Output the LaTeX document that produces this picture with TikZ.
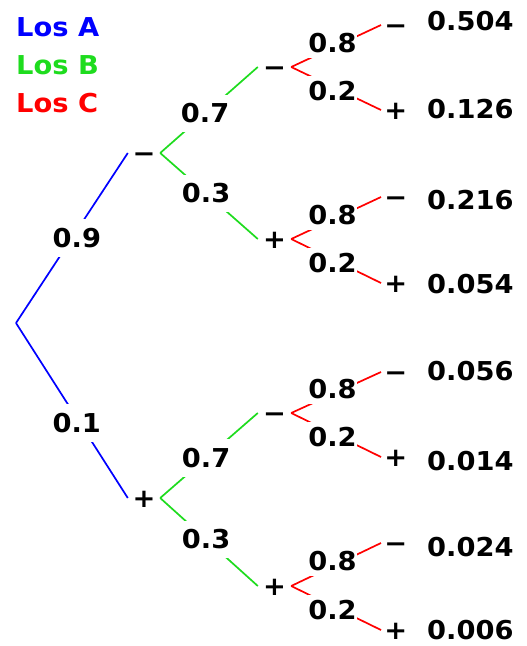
\documentclass[tikz,border=0pt]{standalone}
\usepackage{fontspec}
\setmainfont{DejaVu Sans}[BoldFeatures={FakeStretch=1.05}]
\definecolor{cA}{RGB}{0,0,255}
\definecolor{cB}{RGB}{30,220,30}
\definecolor{cC}{RGB}{255,0,0}
\begin{document}
\begin{tikzpicture}[x=1pt,y=-1pt,
  every node/.style={font=\fontsize{26}{30}\selectfont\bfseries},
  sgn/.style={inner sep=0pt, text height=18pt, text depth=0pt, minimum height=0pt},
  sgnA/.style={sgn, minimum width=32pt},
  sgnB/.style={sgn, minimum width=33pt},
  leafsgn/.style={sgn, minimum width=29pt, anchor=west},
  val/.style={inner sep=0pt, anchor=west},
  lgd/.style={inner sep=0pt, anchor=base west},
  lbl/.style={fill=white, inner xsep=1pt, inner ysep=9pt},
  lblC/.style={fill=white, inner xsep=0pt, inner ysep=5pt},
  edgeA/.style={draw=cA, line width=1.7pt},
  edgeB/.style={draw=cB, line width=1.7pt},
  edgeC/.style={draw=cC, line width=1.7pt}]
\useasboundingbox[fill=white] (0,0) rectangle (527,646);

% legend
\node[lgd, text=cA] (legA) at (16,36) {Los A};
\node[lgd, text=cB] (legB) at (16,74) {Los B};
\node[lgd, text=cC] (legC) at (16,112) {Los C};

% root and level 1
\coordinate (root) at (16,323);
\node[sgnA] (n1) at (144,153) {−};
\node[sgnA] (n2) at (144,498) {+};
\draw[edgeA] (root) -- node[lbl,pos=0.5,xshift=5pt] (p09) {0.9} (n1.west);
\draw[edgeA] (root) -- node[lbl,pos=0.57,xshift=-3pt] (p01) {0.1} (n2.west);

% level 2
\node[sgnB] (m1) at (274.5,67) {−};
\node[sgnB] (m2) at (274.5,239) {+};
\node[sgnB] (m3) at (274.5,413) {−};
\node[sgnB] (m4) at (274.5,586) {+};
\draw[edgeB] (n1.east) -- node[lbl,pos=0.46] (p1a) {0.7} (m1.west);
\draw[edgeB] (n1.east) -- node[lbl,pos=0.47] (p1b) {0.3} (m2.west);
\draw[edgeB] (n2.east) -- node[lbl,pos=0.47] (p2a) {0.7} (m3.west);
\draw[edgeB] (n2.east) -- node[lbl,pos=0.47] (p2b) {0.3} (m4.west);

% leaves
\node[leafsgn] (l1) at (381,25) {−};
\node[leafsgn] (l2) at (381,110) {+};
\node[leafsgn] (l3) at (381,197) {−};
\node[leafsgn] (l4) at (381,283) {+};
\node[leafsgn] (l5) at (381,372) {−};
\node[leafsgn] (l6) at (381,457) {+};
\node[leafsgn] (l7) at (381,543) {−};
\node[leafsgn] (l8) at (381,630) {+};

\draw[edgeC] (m1.east) -- node[lblC,pos=0.46,yshift=5pt] (q1) {0.8} (l1.west);
\draw[edgeC] (m1.east) -- node[lblC,pos=0.46,yshift=-4pt] (q2) {0.2} (l2.west);
\draw[edgeC] (m2.east) -- node[lblC,pos=0.46,yshift=5pt] (q3) {0.8} (l3.west);
\draw[edgeC] (m2.east) -- node[lblC,pos=0.46,yshift=-4pt] (q4) {0.2} (l4.west);
\draw[edgeC] (m3.east) -- node[lblC,pos=0.46,yshift=5pt] (q5) {0.8} (l5.west);
\draw[edgeC] (m3.east) -- node[lblC,pos=0.46,yshift=-4pt] (q6) {0.2} (l6.west);
\draw[edgeC] (m4.east) -- node[lblC,pos=0.46,yshift=5pt] (q7) {0.8} (l7.west);
\draw[edgeC] (m4.east) -- node[lblC,pos=0.46,yshift=-4pt] (q8) {0.2} (l8.west);

% values
\node[val] (v1) at (427,21) {0.504};
\node[val] (v2) at (427,109) {0.126};
\node[val] (v3) at (427,200) {0.216};
\node[val] (v4) at (427,284) {0.054};
\node[val] (v5) at (427,371) {0.056};
\node[val] (v6) at (427,461) {0.014};
\node[val] (v7) at (427,547) {0.024};
\node[val] (v8) at (427,630) {0.006};
\end{tikzpicture}
\end{document}
